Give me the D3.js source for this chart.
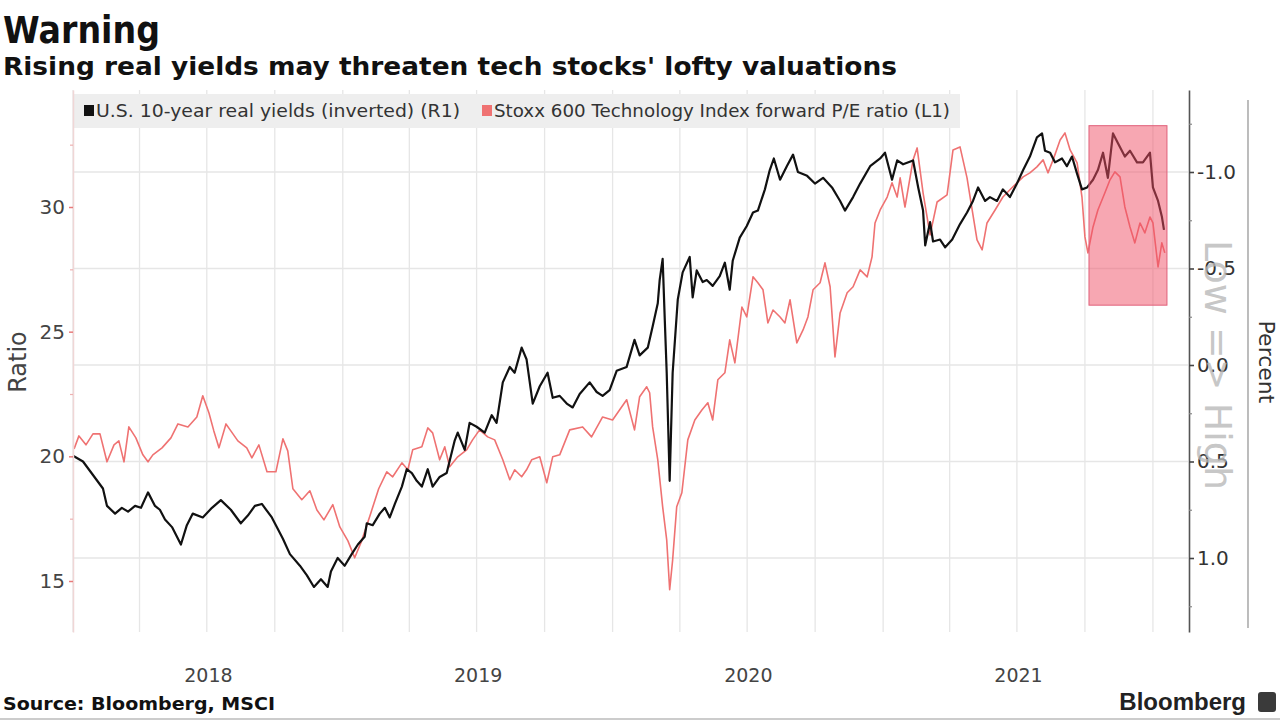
<!DOCTYPE html>
<html>
<head>
<meta charset="utf-8">
<script src="https://cdn.jsdelivr.net/npm/d3@7"></script>
<style>
  body { margin: 0; background: #fff; }
  svg text { font-family: "DejaVu Sans", sans-serif; }
</style>
</head>
<body>
<div id="chart"></div>
<script>
// dates are decimal years
const yieldDates = [2018.000, 2018.037, 2018.074, 2018.111, 2018.126, 2018.156, 2018.181, 2018.204, 2018.230, 2018.252,
  2018.278, 2018.304, 2018.322, 2018.341, 2018.367, 2018.400, 2018.422, 2018.444, 2018.481, 2018.515,
  2018.548, 2018.585, 2018.622, 2018.648, 2018.674, 2018.700, 2018.737, 2018.778, 2018.804, 2018.841,
  2018.867, 2018.893, 2018.919, 2018.944, 2018.956, 2018.981, 2019.007, 2019.033, 2019.056, 2019.081,
  2019.089, 2019.111, 2019.137, 2019.156, 2019.174, 2019.193, 2019.219, 2019.237, 2019.256, 2019.274,
  2019.293, 2019.315, 2019.333, 2019.359, 2019.385, 2019.415, 2019.426, 2019.452, 2019.470, 2019.496,
  2019.526, 2019.552, 2019.570, 2019.593, 2019.619, 2019.637, 2019.663, 2019.681, 2019.704, 2019.730,
  2019.759, 2019.778, 2019.804, 2019.830, 2019.852, 2019.878, 2019.915, 2019.941, 2019.963, 2019.989,
  2020.015, 2020.052, 2020.081, 2020.100, 2020.130, 2020.148, 2020.167, 2020.174, 2020.185, 2020.193,
  2020.200, 2020.211, 2020.222, 2020.241, 2020.259, 2020.285, 2020.296, 2020.311, 2020.333, 2020.348,
  2020.370, 2020.396, 2020.415, 2020.433, 2020.444, 2020.470, 2020.496, 2020.519, 2020.537, 2020.563,
  2020.581, 2020.596, 2020.619, 2020.644, 2020.667, 2020.685, 2020.719, 2020.748, 2020.778, 2020.811,
  2020.841, 2020.859, 2020.889, 2020.915, 2020.952, 2020.989, 2021.007, 2021.033, 2021.052, 2021.074,
  2021.111, 2021.130, 2021.148, 2021.156, 2021.174, 2021.185, 2021.211, 2021.230, 2021.256, 2021.285,
  2021.311, 2021.333, 2021.352, 2021.378, 2021.396, 2021.422, 2021.444, 2021.470, 2021.496, 2021.519,
  2021.544, 2021.570, 2021.589, 2021.600, 2021.619, 2021.637, 2021.663, 2021.681, 2021.700, 2021.719,
  2021.737, 2021.756, 2021.778, 2021.796, 2021.815, 2021.833, 2021.852, 2021.870, 2021.896, 2021.915,
  2021.941, 2021.963, 2021.989, 2022.000, 2022.019, 2022.033, 2022.041];
const yieldValues = [0.47, 0.50, 0.57, 0.64, 0.73, 0.77, 0.74, 0.76, 0.73, 0.74,
  0.66, 0.73, 0.75, 0.80, 0.84, 0.93, 0.83, 0.77, 0.79, 0.74,
  0.70, 0.75, 0.82, 0.78, 0.73, 0.72, 0.79, 0.90, 0.98, 1.04,
  1.09, 1.15, 1.11, 1.15, 1.07, 1.00, 1.04, 0.98, 0.93, 0.89,
  0.82, 0.83, 0.77, 0.74, 0.79, 0.72, 0.63, 0.54, 0.56, 0.60,
  0.63, 0.54, 0.63, 0.58, 0.56, 0.39, 0.35, 0.44, 0.30, 0.32,
  0.35, 0.26, 0.30, 0.09, 0.01, 0.04, -0.09, -0.03, 0.20, 0.11,
  0.04, 0.17, 0.16, 0.20, 0.22, 0.15, 0.09, 0.14, 0.16, 0.13,
  0.03, 0.01, -0.13, -0.05, -0.09, -0.20, -0.32, -0.44, -0.55, -0.23,
  0.04, 0.60, 0.04, -0.34, -0.48, -0.56, -0.35, -0.49, -0.43, -0.44,
  -0.41, -0.46, -0.53, -0.39, -0.54, -0.66, -0.72, -0.79, -0.80, -0.91,
  -1.01, -1.07, -0.96, -1.03, -1.09, -1.00, -0.98, -0.94, -0.97, -0.92,
  -0.85, -0.80, -0.87, -0.94, -1.03, -1.07, -1.10, -0.96, -1.06, -1.04,
  -1.06, -0.92, -0.80, -0.62, -0.74, -0.64, -0.65, -0.61, -0.65, -0.73,
  -0.79, -0.85, -0.92, -0.85, -0.87, -0.85, -0.91, -0.87, -0.94, -1.01,
  -1.08, -1.18, -1.20, -1.11, -1.10, -1.05, -1.07, -1.03, -1.08, -0.99,
  -0.91, -0.92, -0.96, -1.01, -1.10, -0.97, -1.20, -1.15, -1.08, -1.11,
  -1.05, -1.05, -1.10, -0.92, -0.85, -0.77, -0.70];

const peDates = [2018.004, 2018.022, 2018.048, 2018.074, 2018.100, 2018.126, 2018.152, 2018.170, 2018.189, 2018.207,
  2018.233, 2018.259, 2018.278, 2018.296, 2018.330, 2018.363, 2018.389, 2018.426, 2018.459, 2018.481,
  2018.504, 2018.522, 2018.541, 2018.567, 2018.585, 2018.611, 2018.644, 2018.663, 2018.689, 2018.719,
  2018.752, 2018.778, 2018.796, 2018.815, 2018.848, 2018.878, 2018.904, 2018.930, 2018.963, 2018.989,
  2019.019, 2019.044, 2019.070, 2019.104, 2019.133, 2019.163, 2019.185, 2019.219, 2019.241, 2019.259,
  2019.293, 2019.315, 2019.333, 2019.359, 2019.378, 2019.396, 2019.426, 2019.459, 2019.481, 2019.507,
  2019.537, 2019.563, 2019.593, 2019.619, 2019.637, 2019.663, 2019.681, 2019.700, 2019.730, 2019.756,
  2019.778, 2019.804, 2019.841, 2019.889, 2019.922, 2019.963, 2020.000, 2020.052, 2020.081, 2020.100,
  2020.126, 2020.137, 2020.148, 2020.167, 2020.185, 2020.200, 2020.211, 2020.222, 2020.237, 2020.256,
  2020.278, 2020.304, 2020.330, 2020.352, 2020.370, 2020.389, 2020.415, 2020.433, 2020.452, 2020.478,
  2020.496, 2020.519, 2020.537, 2020.556, 2020.574, 2020.593, 2020.619, 2020.637, 2020.656, 2020.681,
  2020.704, 2020.722, 2020.741, 2020.767, 2020.785, 2020.804, 2020.822, 2020.841, 2020.867, 2020.889,
  2020.915, 2020.941, 2020.959, 2020.970, 2020.989, 2021.015, 2021.033, 2021.052, 2021.063, 2021.081,
  2021.111, 2021.126, 2021.148, 2021.174, 2021.200, 2021.237, 2021.259, 2021.285, 2021.311, 2021.330,
  2021.348, 2021.367, 2021.385, 2021.415, 2021.444, 2021.470, 2021.496, 2021.519, 2021.544, 2021.570,
  2021.593, 2021.611, 2021.630, 2021.656, 2021.674, 2021.693, 2021.719, 2021.737, 2021.748, 2021.759,
  2021.778, 2021.796, 2021.822, 2021.841, 2021.859, 2021.878, 2021.896, 2021.915, 2021.933, 2021.952,
  2021.970, 2021.989, 2022.000, 2022.019, 2022.033, 2022.044];
const peValues = [20.30, 20.82, 20.46, 20.90, 20.90, 19.78, 20.46, 20.62, 19.78, 21.18,
  20.74, 20.06, 19.78, 20.06, 20.34, 20.74, 21.30, 21.18, 21.58, 22.43,
  21.74, 21.02, 20.34, 21.30, 21.02, 20.62, 20.34, 19.94, 20.46, 19.38,
  19.38, 20.70, 20.22, 18.70, 18.26, 18.62, 17.85, 17.45, 18.06, 17.17,
  16.61, 15.93, 16.61, 17.73, 18.70, 19.38, 19.18, 19.74, 19.46, 20.26,
  20.38, 21.14, 20.94, 19.86, 20.38, 19.58, 19.98, 20.26, 20.66, 21.06,
  20.78, 20.66, 19.86, 19.06, 19.46, 19.18, 19.46, 19.86, 19.98, 18.94,
  19.98, 20.06, 21.06, 21.18, 20.78, 21.58, 21.46, 22.27, 21.06, 22.39,
  22.79, 22.55, 21.18, 19.86, 17.98, 16.65, 14.65, 15.85, 17.98, 18.54,
  20.66, 21.46, 21.86, 22.15, 21.46, 23.07, 23.35, 24.67, 23.75, 25.99,
  25.59, 27.20, 26.96, 26.68, 25.35, 25.87, 25.59, 25.35, 26.28, 24.55,
  25.07, 25.59, 26.68, 26.96, 27.76, 26.80, 23.99, 25.75, 26.56, 26.80,
  27.48, 27.20, 28.00, 29.36, 29.88, 30.40, 30.97, 30.40, 31.17, 30.00,
  31.89, 32.37, 30.57, 28.88, 30.20, 30.49, 32.29, 32.41, 31.17, 29.88,
  28.68, 28.28, 29.36, 29.88, 30.40, 30.69, 30.97, 31.21, 31.37, 31.61,
  31.89, 31.37, 31.89, 32.69, 32.97, 32.29, 31.77, 30.40, 28.80, 28.16,
  29.20, 29.88, 30.57, 31.09, 31.41, 31.21, 30.00, 29.20, 28.56, 29.36,
  28.96, 29.60, 29.36, 27.60, 28.56, 28.16];

const yearLabels = ["2018", "2019", "2020", "2021"];
const ratioTicks = [15, 20, 25, 30];
const ratioMinorTicks = [17.5, 22.5, 27.5, 32.5];
const percentTicks = [-1.0, -0.5, 0.0, 0.5, 1.0];
const percentMinorTicks = [-1.25, -0.75, -0.25, 0.25, 0.75, 1.25];
const highlightPeriod = [2021.763, 2022.052];
const highlightYield = [-1.24, -0.31];

// decimal year -> Date
function toDate(t) {
  let y = Math.floor(t);
  let start = Date.UTC(y, 0, 1);
  let end = Date.UTC(y + 1, 0, 1);
  return new Date(start + (t - y) * (end - start));
}

class DualAxisChart {
  constructor(_config) {
    this.config = {
      parentElement: _config.parentElement,
      width: 1280,
      height: 720,
      plot: { left: 73, right: 1188, top: 90, bottom: 632 }
    };
    this.initVis();
  }

  initVis() {
    let vis = this;
    let p = vis.config.plot;

    vis.svg = d3.select(vis.config.parentElement)
      .append("svg")
      .attr("width", vis.config.width)
      .attr("height", vis.config.height);

    vis.xScale = d3.scaleUtc()
      .domain([toDate(2018.0), toDate(2022.13)])
      .range([p.left, p.right]);

    // ratio axis (left), 15 -> 581, 30 -> 207
    vis.yLeft = d3.scaleLinear().domain([15, 30]).range([581, 207]);
    vis.yLeft.domain([vis.yLeft.invert(p.top), vis.yLeft.invert(p.bottom)]).range([p.top, p.bottom]);

    // percent axis (right, inverted), -1 -> 172, 1 -> 558
    vis.yRight = d3.scaleLinear().domain([-1, 1]).range([172, 558]);
    vis.yRight.domain([vis.yRight.invert(p.top), vis.yRight.invert(p.bottom)]).range([p.top, p.bottom]);

    vis.renderVis();
  }

  renderVis() {
    let vis = this;
    let p = vis.config.plot;
    let svg = vis.svg;

    // gridlines
    let quarters = d3.utcMonth.every(3).range(toDate(2018.0), toDate(2022.01));
    svg.append("g").selectAll("line")
      .data(quarters)
      .join("line")
      .attr("x1", d => vis.xScale(d)).attr("x2", d => vis.xScale(d))
      .attr("y1", p.top).attr("y2", p.bottom)
      .attr("stroke", "#e6e6e6").attr("stroke-width", 1.3);

    svg.append("g").selectAll("line")
      .data(percentTicks)
      .join("line")
      .attr("x1", p.left).attr("x2", p.right)
      .attr("y1", d => vis.yRight(d)).attr("y2", d => vis.yRight(d))
      .attr("stroke", "#e6e6e6").attr("stroke-width", 1.3);

    // lines
    let peLine = d3.line()
      .x((d, i) => vis.xScale(toDate(peDates[i])))
      .y(d => vis.yLeft(d));
    let yieldLine = d3.line()
      .x((d, i) => vis.xScale(toDate(yieldDates[i])))
      .y(d => vis.yRight(d));

    svg.append("path")
      .datum(peValues)
      .attr("d", peLine)
      .attr("fill", "none")
      .attr("stroke", "#ef7272")
      .attr("stroke-width", 1.6)
      .attr("stroke-linejoin", "round");

    svg.append("path")
      .datum(yieldValues)
      .attr("d", yieldLine)
      .attr("fill", "none")
      .attr("stroke", "#111")
      .attr("stroke-width", 2.2)
      .attr("stroke-linejoin", "round");

    // highlight box
    let bx0 = vis.xScale(toDate(highlightPeriod[0]));
    let bx1 = vis.xScale(toDate(highlightPeriod[1]));
    let by0 = vis.yRight(highlightYield[0]);
    let by1 = vis.yRight(highlightYield[1]);
    svg.append("rect")
      .attr("x", bx0).attr("y", by0)
      .attr("width", bx1 - bx0).attr("height", by1 - by0)
      .attr("fill", "#ef4f66").attr("fill-opacity", 0.5)
      .attr("stroke", "#e0607a").attr("stroke-width", 1);

    // legend
    svg.append("rect")
      .attr("x", p.left).attr("y", 94)
      .attr("width", 887).attr("height", 34)
      .attr("fill", "#eeeeee");
    let legend = [
      { label: "U.S. 10-year real yields (inverted) (R1)", color: "#111", x: 84, w: 364 },
      { label: "Stoxx 600 Technology Index forward P/E ratio (L1)", color: "#ef7272", x: 482, w: 456 }
    ];
    let lg = svg.append("g").selectAll("g")
      .data(legend)
      .join("g")
      .attr("transform", d => `translate(${d.x},0)`);
    lg.append("rect")
      .attr("x", 0).attr("y", 105)
      .attr("width", 10).attr("height", 11)
      .attr("fill", d => d.color);
    lg.append("text")
      .attr("x", 12).attr("y", 117)
      .attr("font-size", 17)
      .attr("fill", "#333")
      .attr("textLength", d => d.w)
      .attr("lengthAdjust", "spacingAndGlyphs")
      .text(d => d.label);

    const tickFont = "'DejaVu Sans', sans-serif";

    // left axis
    let leftAxis = d3.axisLeft(vis.yLeft)
      .tickValues(ratioTicks)
      .tickSize(4)
      .tickSizeOuter(0)
      .tickPadding(4);
    let lAxis = svg.append("g")
      .attr("transform", `translate(${p.left},0)`)
      .call(leftAxis);
    lAxis.select(".domain").attr("stroke", "#f0d6d6").attr("stroke-width", 1.5);
    lAxis.selectAll(".tick line").attr("stroke", "#e87a7a").attr("stroke-width", 1.5);
    lAxis.selectAll(".tick text").attr("font-size", 20).attr("fill", "#444")
      .style("font-family", tickFont);

    let lMinor = svg.append("g")
      .attr("transform", `translate(${p.left},0)`)
      .call(d3.axisLeft(vis.yLeft).tickValues(ratioMinorTicks).tickSize(3).tickFormat(""));
    lMinor.select(".domain").remove();
    lMinor.selectAll(".tick line").attr("stroke", "#eeb0b0").attr("stroke-width", 1.2);

    // right axis
    let rightAxis = d3.axisRight(vis.yRight)
      .tickValues(percentTicks)
      .tickSize(5)
      .tickSizeOuter(0)
      .tickPadding(3)
      .tickFormat(d => d.toFixed(1));
    let rAxis = svg.append("g")
      .attr("transform", `translate(${p.right + 1},0)`)
      .call(rightAxis);
    rAxis.select(".domain").attr("stroke", "#555").attr("stroke-width", 1.6);
    rAxis.selectAll(".tick line").attr("stroke", "#444").attr("stroke-width", 1.6);
    rAxis.selectAll(".tick text").attr("font-size", 20).attr("fill", "#333")
      .style("font-family", tickFont);

    let rMinor = svg.append("g")
      .attr("transform", `translate(${p.right + 1},0)`)
      .call(d3.axisRight(vis.yRight).tickValues(percentMinorTicks).tickSize(3).tickFormat(""));
    rMinor.select(".domain").remove();
    rMinor.selectAll(".tick line").attr("stroke", "#888").attr("stroke-width", 1.2);

    // x axis: year labels at mid-year
    let xAxis = d3.axisBottom(vis.xScale)
      .tickValues(yearLabels.map(y => toDate(+y + 0.5)))
      .tickSize(0)
      .tickPadding(37)
      .tickFormat(d => d3.utcFormat("%Y")(d));
    let xg = svg.append("g")
      .attr("transform", `translate(0,${p.bottom})`)
      .call(xAxis);
    xg.select(".domain").remove();
    xg.selectAll(".tick text").attr("font-size", 19).attr("fill", "#444")
      .style("font-family", tickFont);

    // axis titles
    svg.append("text")
      .attr("transform", "translate(19,362) rotate(-90)")
      .attr("text-anchor", "middle")
      .attr("dominant-baseline", "middle")
      .attr("font-size", 24)
      .attr("fill", "#444")
      .text("Ratio");

    svg.append("text")
      .attr("transform", "translate(1215,365) rotate(90)")
      .attr("text-anchor", "middle")
      .attr("dominant-baseline", "middle")
      .attr("font-size", 38)
      .attr("fill", "#b8b8b8")
      .attr("fill-opacity", 0.8)
      .text("Low => High");

    svg.append("line")
      .attr("x1", 1248).attr("x2", 1248)
      .attr("y1", 100).attr("y2", 628)
      .attr("stroke", "#999").attr("stroke-width", 1.3);

    svg.append("text")
      .attr("transform", "translate(1265,362) rotate(90)")
      .attr("text-anchor", "middle")
      .attr("dominant-baseline", "middle")
      .attr("font-size", 22)
      .attr("fill", "#333")
      .text("Percent");

    // titles
    svg.append("text")
      .attr("x", 3).attr("y", 43)
      .attr("font-size", 37).attr("font-weight", "bold")
      .attr("fill", "#111")
      .attr("textLength", 157)
      .attr("lengthAdjust", "spacingAndGlyphs")
      .text("Warning");

    svg.append("text")
      .attr("x", 3).attr("y", 75)
      .attr("font-size", 25).attr("font-weight", "bold")
      .attr("fill", "#111")
      .attr("textLength", 894)
      .attr("lengthAdjust", "spacingAndGlyphs")
      .text("Rising real yields may threaten tech stocks' lofty valuations");

    // footer
    svg.append("text")
      .attr("x", 3).attr("y", 710)
      .attr("font-size", 18).attr("font-weight", "bold")
      .attr("fill", "#111")
      .attr("textLength", 272)
      .attr("lengthAdjust", "spacingAndGlyphs")
      .text("Source: Bloomberg, MSCI");

    svg.append("text")
      .attr("x", 1246).attr("y", 710)
      .attr("text-anchor", "end")
      .attr("font-size", 24).attr("font-weight", "bold")
      .attr("fill", "#222")
      .style("font-family", "'Liberation Sans', Arial, sans-serif")
      .text("Bloomberg");

    svg.append("rect")
      .attr("x", 1258).attr("y", 692)
      .attr("width", 18).attr("height", 20)
      .attr("rx", 3)
      .attr("fill", "#3a3a3a");

    svg.append("line")
      .attr("x1", 0).attr("x2", vis.config.width)
      .attr("y1", 719).attr("y2", 719)
      .attr("stroke", "#bbb").attr("stroke-width", 1.5);
  }
}

let chart = new DualAxisChart({ parentElement: "#chart" });
</script>
</body>
</html>
